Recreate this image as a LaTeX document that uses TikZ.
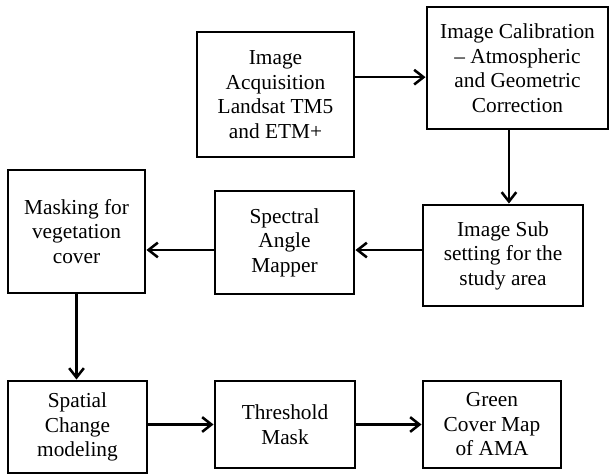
\documentclass[tikz,border=0pt]{standalone}
\usepackage{fontspec}
\setmainfont{Liberation Serif}
\usetikzlibrary{arrows.meta, positioning}

\begin{document}
\begin{tikzpicture}[x=0.75pt, y=-0.75pt,
  box/.style={draw, line width=2.2pt, align=center, inner sep=0pt, font=\fontsize{16}{18.4}\selectfont},
  arr/.style={-{Straight Barb[length=7pt, width=11pt]}, line width=1.9pt}]
  \useasboundingbox (0,0) rectangle (611,475);

  % Top row
  \node[box, minimum width=117.75pt, minimum height=93.75pt] (acq) at (275.5, 94.5) {Image\\Acquisition\\Landsat TM5\\and ETM+};
  \node[box, minimum width=135.75pt, minimum height=91.5pt] (calib) at (517.5, 68) {Image Calibration\\-- Atmospheric\\and Geometric\\Correction};

  % Middle row
  \node[box, minimum width=120pt, minimum height=75.75pt] (subset) at (503, 255.5) {Image Sub\\setting for the\\study area};
  \node[box, minimum width=104.25pt, minimum height=77.25pt] (sam) at (284.5, 242.5) {Spectral\\Angle\\Mapper};
  \node[box, minimum width=102.75pt, minimum height=92.25pt] (mask) at (76.5, 231.5) {Masking for\\vegetation\\cover};

  % Bottom row
  \node[box, minimum width=104.25pt, minimum height=69pt] (change) at (77.5, 427) {Spatial\\Change\\modeling};
  \node[box, minimum width=105pt, minimum height=65.25pt] (thresh) at (285, 424.5) {Threshold\\Mask};
  \node[box, minimum width=103.5pt, minimum height=65.25pt] (green) at (492, 424.5) {Green\\Cover Map\\of AMA};

  % Flow
  \draw[arr] ([yshift=13pt]acq.east) -- ([yshift=13pt]acq.east -| calib.west);
  \draw[arr] ([xshift=-6.4pt]calib.south) -- ([xshift=-6.4pt]calib.south |- subset.north);
  \draw[arr] ([yshift=4.1pt]subset.west) -- ([yshift=4.1pt]subset.west -| sam.east);
  \draw[arr] ([yshift=-5.6pt]sam.west) -- ([yshift=-5.6pt]sam.west -| mask.east);
  \draw[arr] (mask.south) -- (mask.south |- change.north);
  \draw[arr] (thresh.west -| change.east) -- (thresh.west);
  \draw[arr] (thresh.east) -- (green.west);
\end{tikzpicture}
\end{document}
